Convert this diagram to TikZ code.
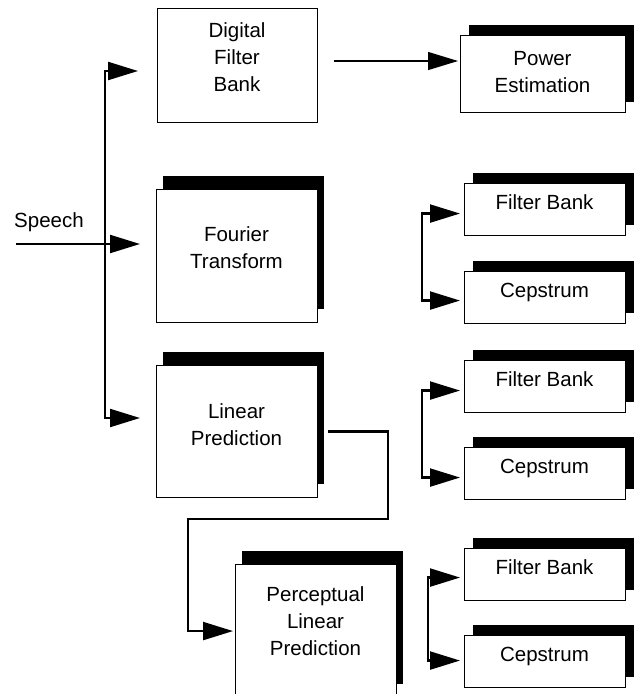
\documentclass[tikz,border=0pt]{standalone}
\usepackage{fontspec}
\setmainfont{Liberation Sans}
\usetikzlibrary{arrows.meta,shadows}
\begin{document}
\begin{tikzpicture}[x=1pt,y=-1pt,
  block/.style 2 args={draw, line width=1.1pt, fill=white, inner sep=0pt,
    anchor=north west, minimum width=#1, minimum height=#2},
  bigshade/.style={drop shadow={shadow xshift=6pt, shadow yshift=14pt, fill=black, opacity=1}},
  smallshade/.style={drop shadow={shadow xshift=8pt, shadow yshift=10.5pt, fill=black, opacity=1}},
  lbl/.style={align=center, inner sep=0pt, font=\fontsize{20.5}{27}\selectfont},
  wire/.style={line width=2.2pt},
  thinwire/.style={line width=1.3pt},
  tri/.tip={Triangle[length=30pt, width=18pt]}]
\useasboundingbox (0,0) rectangle (634,694);

% processing blocks
\node[block={160}{114}] (dfb) at (157,8) {};
\node[block={165}{77}, smallshade] (pe) at (460,35) {};
\node[block={161}{133}, bigshade] (ft) at (156,189) {};
\node[block={161}{132}, bigshade] (lp) at (156,365) {};
\node[block={161}{133}, bigshade] (plp) at (235,564) {};
\node[block={161}{52}, smallshade] (fb1) at (464,183) {};
\node[block={161}{52}, smallshade] (cep1) at (464,271) {};
\node[block={161}{52}, smallshade] (fb2) at (464,360) {};
\node[block={161}{52}, smallshade] (cep2) at (464,447) {};
\node[block={161}{52}, smallshade] (fb3) at (464,548) {};
\node[block={161}{52}, smallshade] (cep3) at (464,635) {};

% block captions
\node[lbl] (dfbt) at (237,57.5) {Digital\\Filter\\Bank};
\node[lbl] (pet) at (542.5,72.5) {Power\\Estimation};
\node[lbl] (ftt) at (236.5,247.5) {Fourier\\Transform};
\node[lbl] (lpt) at (236.5,425) {Linear\\Prediction};
\node[lbl] (plpt) at (315.5,621.5) {Perceptual\\Linear\\Prediction};
\node[lbl, anchor=base] (fb1t) at (544.5,209.5) {Filter Bank};
\node[lbl, anchor=base] (cep1t) at (544.5,297.5) {Cepstrum};
\node[lbl, anchor=base] (fb2t) at (544.5,386.5) {Filter Bank};
\node[lbl, anchor=base] (cep2t) at (544.5,473.5) {Cepstrum};
\node[lbl, anchor=base] (fb3t) at (544.5,574.5) {Filter Bank};
\node[lbl, anchor=base] (cep3t) at (544.5,661.5) {Cepstrum};
\node[lbl, anchor=base] (speech) at (49,227) {Speech};

% input bus
\coordinate (sp) at (16,244);
\coordinate (busT) at (105,71);
\coordinate (busM) at (105,244);
\coordinate (busB) at (105,418);
\draw[wire, {tri}-{tri}, shorten <=19pt, shorten >=16pt]
  (busT -| dfb.west) -- (busT) -- (busB) -- (busB -| lp.west);
\draw[wire, -{tri}, shorten >=16pt] (sp) -- (busM -| ft.west);

% filter bank to power estimation
\coordinate (row) at (0,61);
\draw[thinwire, -{tri}, shorten <=16pt, shorten >=2pt] (dfb.east |- row) -- (pe.west |- row);

% linear prediction feeds perceptual linear prediction
\coordinate (k1) at (388,519);
\coordinate (k2) at (188,519);
\draw[wire, -{tri}, shorten <=10pt, shorten >=2pt] (lp.east) -| (k1) -- (k2) |- (plp.west);

% output brackets
\coordinate (br1) at (422,0);
\coordinate (br2) at (422,0);
\coordinate (br3) at (428,0);
\coordinate (a1) at ([yshift=-4pt]fb1.west);
\coordinate (b1) at ([yshift=-3pt]cep1.west);
\coordinate (a2) at ([yshift=-4pt]fb2.west);
\coordinate (b2) at ([yshift=-4pt]cep2.west);
\coordinate (a3) at ([yshift=-3pt]fb3.west);
\coordinate (b3) at ([yshift=1pt]cep3.west);
\draw[wire, {tri}-{tri}, shorten <=4pt, shorten >=4pt] (a1) -- (a1 -| br1) -- (b1 -| br1) -- (b1);
\draw[wire, {tri}-{tri}, shorten <=4pt, shorten >=4pt] (a2) -- (a2 -| br2) -- (b2 -| br2) -- (b2);
\draw[wire, {tri}-{tri}, shorten <=4pt, shorten >=4pt] (a3) -- (a3 -| br3) -- (b3 -| br3) -- (b3);
\end{tikzpicture}
\end{document}
